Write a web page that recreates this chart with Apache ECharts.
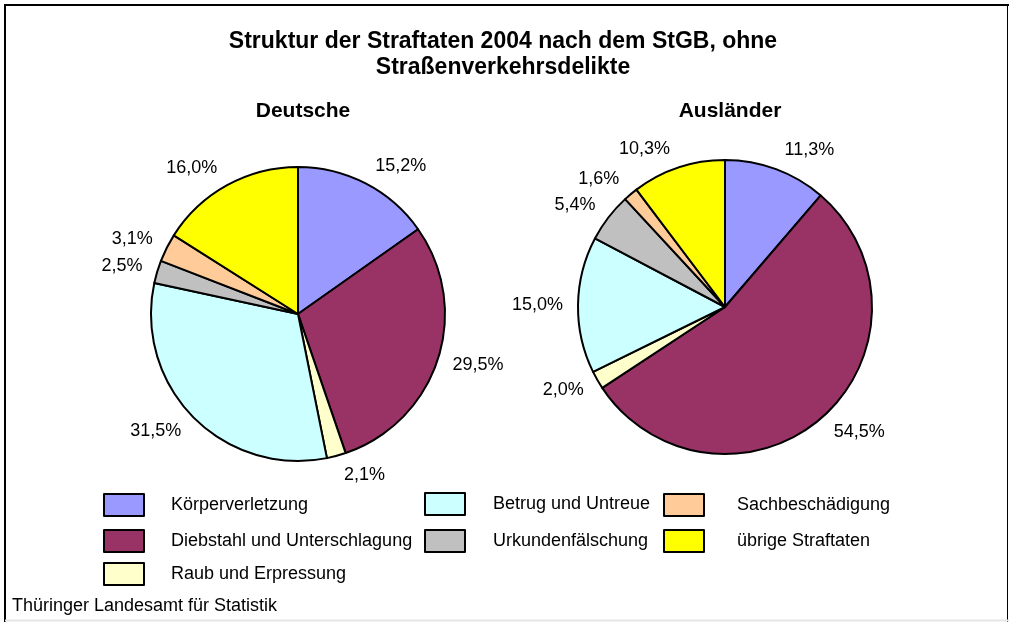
<!DOCTYPE html>
<html>
<head>
<meta charset="utf-8">
<script src="https://cdn.jsdelivr.net/npm/echarts@6/dist/echarts.min.js"></script>
<style>
html,body{margin:0;padding:0;background:#fff;}
#chart{width:1009px;height:622px;}
</style>
</head>
<body>
<div id="chart"></div>
<script>
// ---- data ----
const categories = ['Körperverletzung','Diebstahl und Unterschlagung','Raub und Erpressung','Betrug und Untreue','Urkundenfälschung','Sachbeschädigung','übrige Straftaten'];
const deutscheValues = [15.2, 29.5, 2.1, 31.5, 2.5, 3.1, 16.0];
const auslaenderValues = [11.3, 54.5, 2.0, 15.0, 5.4, 1.6, 10.3];
const chartTitle = 'Struktur der Straftaten 2004 nach dem StGB, ohne\nStraßenverkehrsdelikte';
const pieTitles = ['Deutsche', 'Ausländer'];
const sourceText = 'Thüringer Landesamt für Statistik';

// ---- styles / layout ----
const colors = ['#9999FF','#993366','#FFFFCC','#CCFFFF','#C0C0C0','#FFCC99','#FFFF00'];
const FONT = '"Liberation Sans", Arial, sans-serif';
const legendSlots = [ // left, top, text gap
  [103, 493, 22], [103, 529, 22], [103, 562, 22],
  [424, 492, 23], [424, 529, 23],
  [663, 493, 28], [663, 529, 28]
];

const fmt = p => p.value.toFixed(1).replace('.', ',') + '%';

// push labels a bit further away vertically (like Excel's outside-end labels)
function labelShift(params) {
  const pts = params.labelLinePoints;
  if (!pts || pts.length < 2) return {};
  const vx = pts[1][0] - pts[0][0], vy = pts[1][1] - pts[0][1];
  const len = Math.sqrt(vx * vx + vy * vy) || 1;
  return { dy: 10 * vy / len };
}

function pieSeries(name, values, center) {
  return {
    type: 'pie',
    name: name,
    center: center,
    radius: 147,
    startAngle: 90,
    clockwise: true,
    avoidLabelOverlap: false,
    animation: false,
    emphasis: { disabled: true },
    itemStyle: { borderColor: '#000', borderWidth: 2 },
    label: {
      show: true, position: 'outside', formatter: fmt,
      fontSize: 18, color: '#000', fontFamily: FONT, distanceToLabelLine: 5
    },
    labelLine: { show: true, length: 10, length2: 0, lineStyle: { opacity: 0, width: 0 } },
    labelLayout: labelShift,
    data: categories.map((c, i) => ({ name: c, value: values[i], itemStyle: { color: colors[i] } }))
  };
}

const chart = echarts.init(document.getElementById('chart'), null, { renderer: 'canvas' });
chart.setOption({
  backgroundColor: '#fff',
  animation: false,
  title: [
    { text: chartTitle, left: 498, top: 24, textAlign: 'center',
      textStyle: { fontSize: 23, fontWeight: 'bold', color: '#000', fontFamily: FONT, lineHeight: 26 } },
    { text: pieTitles[0], left: 298, top: 96, textAlign: 'center',
      textStyle: { fontSize: 21, fontWeight: 'bold', color: '#000', fontFamily: FONT } },
    { text: pieTitles[1], left: 725, top: 96, textAlign: 'center',
      textStyle: { fontSize: 21, fontWeight: 'bold', color: '#000', fontFamily: FONT } },
    { text: sourceText, left: 12, top: 597, padding: 0,
      textStyle: { fontSize: 18, fontWeight: 'normal', color: '#000', fontFamily: FONT } }
  ],
  legend: categories.map((c, i) => ({
    data: [c],
    left: legendSlots[i][0], top: legendSlots[i][1],
    padding: 0,
    icon: 'rect', itemWidth: 40, itemHeight: 22,
    itemStyle: { borderColor: '#000', borderWidth: 2 },
    selectedMode: false,
    textStyle: { fontSize: 18, color: '#000', fontFamily: FONT, padding: [0, 0, 0, legendSlots[i][2]] }
  })),
  graphic: [
    { type: 'line', shape: { x1: 4, y1: 5, x2: 1009, y2: 5 }, style: { stroke: '#000', lineWidth: 2 } },
    { type: 'line', shape: { x1: 5, y1: 4, x2: 5, y2: 622 }, style: { stroke: '#000', lineWidth: 2 } },
    { type: 'line', shape: { x1: 1007.5, y1: 4, x2: 1007.5, y2: 622 }, style: { stroke: '#000', lineWidth: 1 } },
    { type: 'line', shape: { x1: 5, y1: 620.5, x2: 1009, y2: 620.5 }, style: { stroke: '#e6e6e6', lineWidth: 2 } }
  ],
  series: [
    pieSeries(pieTitles[0], deutscheValues, [298, 314]),
    pieSeries(pieTitles[1], auslaenderValues, [725, 307])
  ]
});
</script>
</body>
</html>
